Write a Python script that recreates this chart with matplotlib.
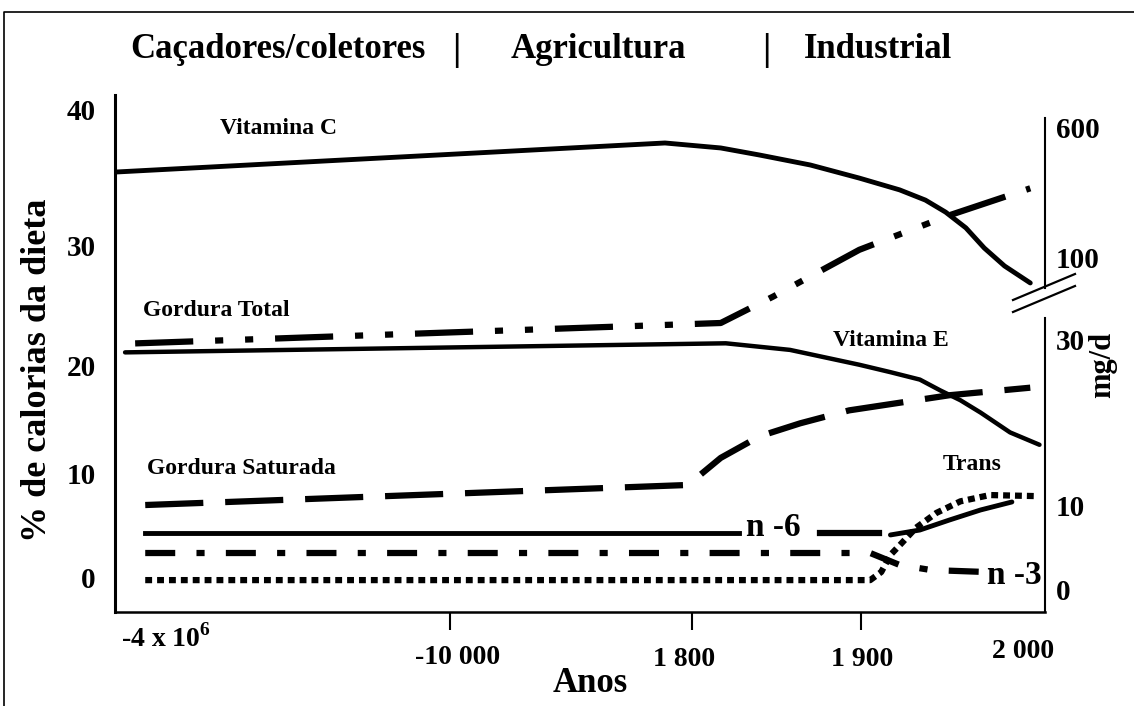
import numpy as np
import matplotlib.pyplot as plt
from matplotlib.lines import Line2D

W, H = 1134, 706

plt.rcParams['font.family'] = ['Liberation Serif', 'DejaVu Serif']
plt.rcParams['font.weight'] = 'bold'
plt.rcParams['mathtext.fontset'] = 'custom'
plt.rcParams['mathtext.rm'] = 'Liberation Serif:bold'

# header of the chart
period_names = ["Caçadores/coletores", "Agricultura", "Industrial"]

# x axis: years, drawn on a non linear axis
year_ticks = [-4e6, -10000, 1800, 1900, 2000]
year_tick_labels = ["-4 x 10$^6$", "-10 000", "1 800", "1 900", "2 000"]

# left axis (% of calories) and right axis (mg/d)
pct_ticks = [0, 10, 20, 30, 40]
mg_ticks = [0, 10, 30, 100, 600]

# series (fats in %, vitamins in mg/d)
vitc_years = [-4e6, 483, 1817, 1840, 1870, 1899, 1921, 1935, 1946, 1957,
              1967, 1978, 1992]
vitc_mg = [428, 539, 520, 493, 455, 405, 360, 321, 275, 215, 138, 93.2, 78.7]

vite_years = [-3.88e6, 1820, 1858, 1899, 1916, 1932, 1943, 1954, 1965,
              1981, 1997]
vite_mg = [28.5, 29.6, 28.8, 27.0, 26.1, 25.2, 23.9, 22.7, 21.2, 18.8, 17.3]

total_years = [-3.76e6, 1817, 1848, 1899, 1948, 1992]
total_pct = [21.8, 23.5, 25.7, 29.6, 32.2, 34.2]

sat_years = [-3.64e6, 1605, 1817, 1840, 1864, 1893, 1948, 1992]
sat_pct = [6.95, 8.86, 11.4, 13.4, 14.6, 15.8, 17.2, 17.9]

n6_years = [-3.64e6, 1828, 1876, 1910, 1916, 1932, 1948, 1965, 1982]
n6_pct = [4.29, 4.29, 4.29, 4.29, 4.1, 4.57, 5.52, 6.48, 7.24]

n3_years = [-3.64e6, 1905, 1921, 1938, 1968]
n3_pct = [2.38, 2.38, 1.24, 0.76, 0.57]

trans_years = [-3.64e6, 1905, 1911, 1916, 1922, 1930, 1941, 1954, 1970, 1995]
trans_pct = [-0.2, -0.2, 0.57, 2.2, 3.3, 4.8, 6.2, 7.3, 7.9, 7.8]

# where the ticks sit on the drawing, in pixels
YEAR_PX = [115, 450, 692, 861, 1045]
PCT_PX = [578, 473, 365, 245, 110]
MG_PX = [590, 505, 340, 258, 127]


def piecewise(xk, yk):
    xk = np.asarray(xk, float)
    yk = np.asarray(yk, float)
    lo_slope = (yk[1] - yk[0]) / (xk[1] - xk[0])
    hi_slope = (yk[-1] - yk[-2]) / (xk[-1] - xk[-2])

    def f(v):
        v = np.asarray(v, float)
        out = np.interp(v, xk, yk)
        out = np.where(v < xk[0], yk[0] + (v - xk[0]) * lo_slope, out)
        out = np.where(v > xk[-1], yk[-1] + (v - xk[-1]) * hi_slope, out)
        return out
    return f


def fxy(x, y):
    # pixel position on the picture -> figure fraction
    return x / W, 1 - y / H


fig = plt.figure(figsize=(W / 100, H / 100), dpi=100)
ax = fig.add_axes([115 / W, 1 - 612 / H, (1045 - 115) / W, (612 - 95) / H])

ax.set_xscale('function', functions=(piecewise(year_ticks, YEAR_PX),
                                     piecewise(YEAR_PX, year_ticks)))
ax.set_xlim(-4e6, 2000)

pct_pos = -np.array(PCT_PX, float)
pct_inv = piecewise(pct_pos, pct_ticks)
ax.set_yscale('function', functions=(piecewise(pct_ticks, pct_pos), pct_inv))
ax.set_ylim(float(pct_inv(-612)), float(pct_inv(-95)))

ax2 = ax.twinx()
mg_pos = -np.array(MG_PX, float)
mg_inv = piecewise(mg_pos, mg_ticks)
ax2.set_yscale('function', functions=(piecewise(mg_ticks, mg_pos), mg_inv))
ax2.set_ylim(float(mg_inv(-612)), float(mg_inv(-95)))

# vitamins on the mg/d axis
ax2.plot(vitc_years, vitc_mg, color='black', lw=3.5,
         solid_capstyle='round', solid_joinstyle='round')
ax2.plot(vite_years, vite_mg, color='black', lw=3.2,
         solid_capstyle='round', solid_joinstyle='round')

# fats on the % axis
ax.plot(total_years, total_pct, color='black', lw=4.5,
        dashes=(9.3, 3.5, 1.3, 3.5, 1.3, 3.5))
ax.plot(sat_years, sat_pct, color='black', lw=4.5, dashes=(9.3, 3.5))
ax.plot(n6_years[:2], n6_pct[:2], color='black', lw=3.5)
ax.plot(n6_years[2:4], n6_pct[2:4], color='black', lw=4.5)
ax.plot(n6_years[4:], n6_pct[4:], color='black', lw=3.5,
        solid_capstyle='round', solid_joinstyle='round')
ax.plot(n3_years, n3_pct, color='black', lw=4.5, dashes=(4.8, 3.4, 1.3, 3.4))
ax.plot(trans_years, trans_pct, color='black', lw=4.5, dashes=(1.1, 0.8))

for a in (ax, ax2):
    for side in ('top', 'right'):
        a.spines[side].set_visible(False)
ax2.spines['left'].set_visible(False)
ax2.spines['bottom'].set_visible(False)
ax.spines['left'].set_linewidth(2.2)
ax.spines['bottom'].set_linewidth(1.8)

ax.set_yticks(pct_ticks)
ax.set_yticklabels([str(v) for v in pct_ticks])
ax.tick_params(axis='y', length=0, pad=14, labelsize=21)
ax2.set_yticks(mg_ticks)
ax2.set_yticklabels([str(v) for v in mg_ticks])
ax2.tick_params(axis='y', length=0, pad=8, labelsize=21)

ax.set_xticks(year_ticks[1:4])
ax.tick_params(axis='x', length=13, width=1.5, direction='out',
               labelbottom=False)
label_offsets = [(51, -26), (8, -46), (-8, -48), (1, -48), (-22, -40)]
for yr, lbl, (dx, dy) in zip(year_ticks, year_tick_labels, label_offsets):
    ax.annotate(lbl, xy=(yr, 0), xycoords=('data', 'axes fraction'),
                xytext=(dx, dy), textcoords='offset pixels',
                ha='center', va='center', fontsize=20)

# broken right axis
fig.add_artist(Line2D([1045 / W] * 2, [1 - 118 / H, 1 - 288 / H],
                      color='black', lw=1.5))
fig.add_artist(Line2D([1045 / W] * 2, [1 - 318 / H, 1 - 612 / H],
                      color='black', lw=1.5))
for y0 in (300, 312):
    (xa, ya), (xb, yb) = fxy(1013, y0), fxy(1075, y0 - 26)
    fig.add_artist(Line2D([xa, xb], [ya, yb], color='black', lw=1.6))

# image border
fig.add_artist(Line2D([4 / W, 4 / W, 1], [0, 1 - 12 / H, 1 - 12 / H],
                      color='black', lw=1.2))

# header
for name, x in zip(period_names, [278, 598, 878]):
    fig.text(*fxy(x, 50), name, ha='center', va='center', fontsize=25)
for x in (456, 766):
    fig.text(*fxy(x, 50), "|", ha='center', va='center', fontsize=27)

# series labels
series_labels = [("Vitamina C", 279, 128, 17), ("Gordura Total", 216, 310, 17),
                 ("Vitamina E", 891, 340, 17), ("Gordura Saturada", 241, 468, 17),
                 ("Trans", 972, 465, 17), ("n -6", 773, 528, 24),
                 ("n -3", 1014, 576, 24)]
for txt, x, y, size in series_labels:
    fig.text(*fxy(x, y), txt, ha='center', va='center', fontsize=size)

fig.text(*fxy(38, 370), "% de calorias da dieta", rotation=90,
         ha='center', va='center', fontsize=26)
fig.text(*fxy(1103, 365), "mg/d", rotation=90,
         ha='center', va='center', fontsize=22)
fig.text(*fxy(590, 684), "Anos", ha='center', va='center', fontsize=25)

fig.savefig("out.png", dpi=100)
